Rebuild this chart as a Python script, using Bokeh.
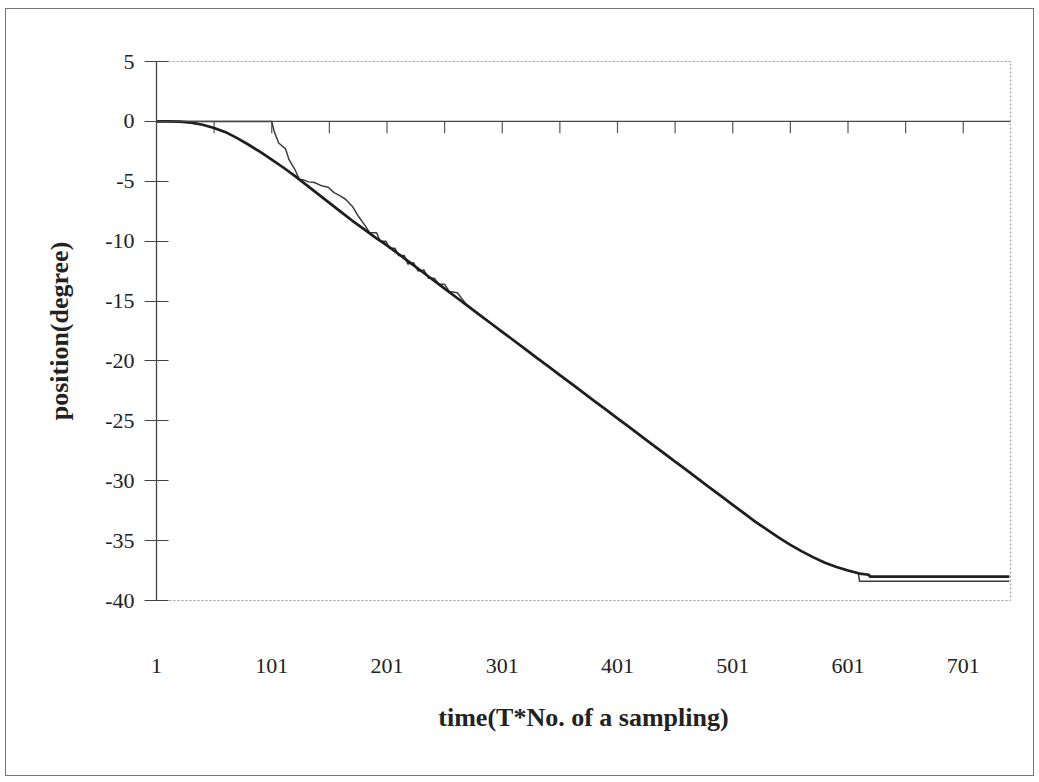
from bokeh.plotting import figure
from bokeh.models import Range1d, FixedTicker, Span, CustomJSTickFormatter, InlineStyleSheet
from bokeh.embed import file_html
from bokeh.resources import INLINE

# ---- data ----
x_tick_labels = [1, 101, 201, 301, 401, 501, 601, 701]
x_tick_marks = [51, 101, 151, 201, 251, 301, 351, 401, 451, 501, 551, 601, 651, 701]
y_ticks = [5, 0, -5, -10, -15, -20, -25, -30, -35, -40]

thick_s = [1, 11, 21, 31, 41, 51, 61, 71, 81, 91, 101, 111, 121, 131, 141, 151, 161, 171,
           181, 191, 201, 211, 221, 231, 241, 251, 261, 271, 281, 291, 301, 311, 321, 331,
           341, 351, 361, 371, 381, 391, 401, 411, 421, 431, 441, 451, 461, 471, 481, 491,
           501, 511, 521, 531, 541, 551, 561, 571, 581, 591, 601, 611, 619, 620, 741]
thick_v = [0, 0, -0.02, -0.1, -0.28, -0.55, -0.9, -1.4, -1.95, -2.55, -3.2, -3.85, -4.55,
           -5.3, -6.05, -6.8, -7.55, -8.3, -9.0, -9.7, -10.35, -11.07, -11.79, -12.51,
           -13.24, -13.96, -14.68, -15.40, -16.13, -16.85, -17.57, -18.29, -19.01, -19.74,
           -20.46, -21.18, -21.90, -22.62, -23.35, -24.07, -24.79, -25.51, -26.24, -26.96,
           -27.68, -28.40, -29.12, -29.85, -30.57, -31.29, -32.01, -32.73, -33.45, -34.1,
           -34.75, -35.35, -35.9, -36.4, -36.85, -37.2, -37.5, -37.75, -37.85, -38.0, -38.0]

thin_s = [1, 101, 103, 107, 113, 116, 121, 125, 129, 133, 138, 145, 150, 155, 160, 165,
          171, 176, 182, 186, 192, 195, 200, 203, 208, 211, 216, 219, 224, 228, 233, 237,
          242, 246, 251, 255, 262, 270, 280, 290, 300, 310, 320, 330, 340, 350, 360, 370,
          380, 390, 400, 410, 420, 430, 440, 450, 460, 470, 480, 490, 500, 510, 520, 530,
          540, 550, 560, 570, 580, 590, 600, 610, 611, 741]
thin_v = [0, 0, -0.8, -1.8, -2.3, -3.2, -4.0, -4.85, -4.9, -5.05, -5.1, -5.4, -5.5, -5.95,
          -6.2, -6.5, -7.1, -7.9, -8.7, -9.3, -9.3, -10.0, -10.0, -10.6, -10.6, -11.2, -11.2,
          -11.9, -11.8, -12.5, -12.4, -13.1, -13.1, -13.6, -13.6, -14.2, -14.3, -15.3, -16.05,
          -16.75, -17.55, -18.2, -18.95, -19.7, -20.35, -21.15, -21.85, -22.55, -23.3, -24.0,
          -24.75, -25.45, -26.2, -26.9, -27.65, -28.35, -29.05, -29.8, -30.5, -31.25, -31.95,
          -32.7, -33.35, -34.05, -34.7, -35.3, -35.85, -36.35, -36.8, -37.15, -37.45, -37.75,
          -38.4, -38.4]

FONT = "Liberation Serif"

p = figure(width=1039, height=782, output_backend="svg", toolbar_location=None,
           x_range=Range1d(1, 742), y_range=Range1d(-40, 5),
           min_border_left=156, min_border_right=29, min_border_top=61, min_border_bottom=182)

p.background_fill_color = "white"
p.border_fill_color = "white"
p.outline_line_color = "#9a9a9a"
p.outline_line_dash = "2 2"
p.outline_line_width = 1
p.xgrid.visible = False
p.ygrid.visible = False
# thin frame round the whole picture (drawn above the canvas layers)
p.stylesheets = [InlineStyleSheet(css="""
:host { position: relative; }
:host::after {
  content: ""; position: absolute; left: 5px; top: 8px; width: 1029px; height: 768px;
  box-sizing: border-box; border: 1px solid #777777; pointer-events: none; z-index: 100;
}
""")]

# bottom axis: only labels
xa = p.xaxis[0]
xa.ticker = FixedTicker(ticks=x_tick_labels)
xa.formatter = CustomJSTickFormatter(code="return tick.toString();")
xa.axis_line_color = None
xa.major_tick_line_color = None
xa.minor_tick_line_color = None
xa.major_label_standoff = 52
xa.major_label_text_font = FONT
xa.major_label_text_font_size = "22px"
xa.major_label_text_color = "#222222"
xa.axis_label = "time(T*No. of a sampling)"
xa.axis_label_text_font = FONT
xa.axis_label_text_font_style = "bold"
xa.axis_label_text_font_size = "26px"
xa.axis_label_text_color = "#222222"
xa.axis_label_standoff = 27

ya = p.yaxis[0]
ya.ticker = FixedTicker(ticks=y_ticks)
ya.formatter = CustomJSTickFormatter(code="return tick.toString();")
ya.axis_line_color = "#444444"
ya.axis_line_width = 1.3
ya.major_tick_line_color = "#444444"
ya.major_tick_in = 12
ya.major_tick_out = 12
ya.minor_tick_line_color = None
ya.major_label_standoff = 10
ya.major_label_text_font = FONT
ya.major_label_text_font_size = "22px"
ya.major_label_text_color = "#222222"
ya.axis_label = "position(degree)"
ya.axis_label_text_font = FONT
ya.axis_label_text_font_style = "bold"
ya.axis_label_text_font_size = "26px"
ya.axis_label_text_color = "#222222"
ya.axis_label_standoff = 28

# horizontal axis line at y = 0 with downward ticks
p.add_layout(Span(location=0, dimension="width", line_color="#444444", line_width=1.3))
p.segment(x0=x_tick_marks, y0=[0] * len(x_tick_marks), x1=x_tick_marks,
          y1=[-1.0] * len(x_tick_marks), line_color="#555555", line_width=1.2)

p.line(thin_s, thin_v, line_color="#3c3c3c", line_width=1.5)
p.line(thick_s, thick_v, line_color="#1e1e1e", line_width=2.7)

open("out.html", "w").write(file_html(p, INLINE))
